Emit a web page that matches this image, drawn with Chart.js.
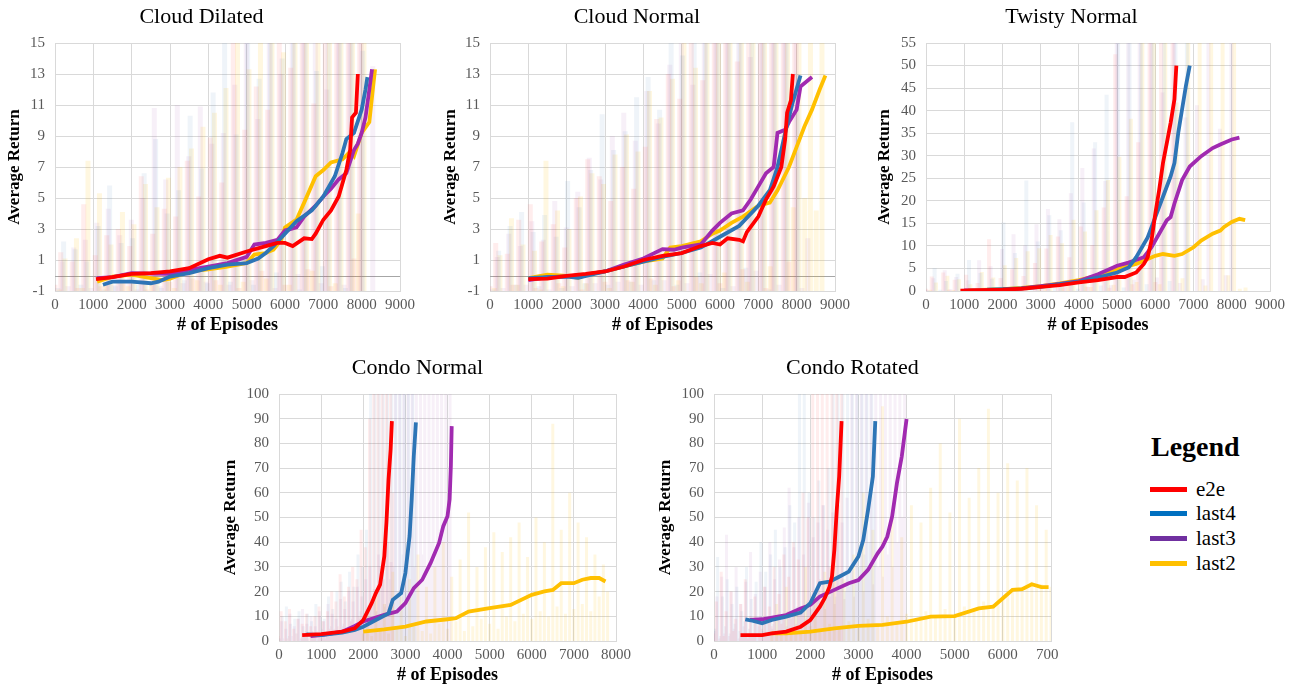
<!DOCTYPE html>
<html>
<head>
<meta charset="utf-8">
<script src="https://cdn.jsdelivr.net/npm/chart.js@4.4.1/dist/chart.umd.min.js"></script>
<style>
  html, body { margin: 0; padding: 0; background: #fff; width: 1299px; height: 685px; overflow: hidden; }
  .box { position: absolute; overflow: hidden; }
  .box canvas { position: absolute; left: 0; top: 0; }
  #legend { position: absolute; left: 1140px; top: 431px; font-family: "Liberation Serif", serif; color: #000; }
  #legend .head { font-size: 28px; font-weight: bold; position: absolute; left: 11px; top: 0; white-space: nowrap; }
  #legend .item { position: absolute; left: 10px; height: 24px; white-space: nowrap; font-size: 21px; line-height: 24px; }
  #legend .sw { display: inline-block; width: 37px; height: 5px; vertical-align: middle; margin-right: 9px; position: relative; top: -2px; }
</style>
</head>
<body>
<div id="legend">
  <div class="head">Legend</div>
  <div class="item" style="top:46px"><span class="sw" style="background:#FF0000"></span>e2e</div>
  <div class="item" style="top:70px"><span class="sw" style="background:#0070C0"></span>last4</div>
  <div class="item" style="top:95px"><span class="sw" style="background:#7030A0"></span>last3</div>
  <div class="item" style="top:120px"><span class="sw" style="background:#FFC000"></span>last2</div>
</div>
<script>
// series names and colours
const seriesNames = ["e2e", "last4", "last3", "last2"];
const lineColors = ["#FF0000", "#2E75B6", "#A12AB0", "#FFC000"];
const noiseColors = ["rgba(255,60,60,0.09)", "rgba(46,117,182,0.08)", "rgba(150,60,170,0.08)", "rgba(255,192,0,0.12)"];

// ---------- Cloud Dilated ----------
const cdE2e = [[1070,-0.24],[1500,-0.1],[2000,0.1],[2500,0.15],[3000,0.26],[3500,0.47],[4000,1.05],[4300,1.27],[4500,1.15],[5000,1.55],[5500,1.9],[5800,2.1],[6000,2.1],[6200,1.9],[6500,2.4],[6700,2.35],[6800,2.7],[7000,3.6],[7200,4.2],[7400,5.1],[7600,6.8],[7700,8.1],[7750,10.2],[7850,10.5],[7900,13.0]];
const cdLast4 = [[1250,-0.6],[1500,-0.4],[2000,-0.4],[2500,-0.5],[2700,-0.4],[3000,-0.07],[3500,0.15],[4000,0.47],[4500,0.7],[5000,0.8],[5300,1.1],[5500,1.45],[5700,1.9],[6000,2.7],[6300,3.5],[6700,4.2],[7000,5.1],[7300,6.4],[7500,7.9],[7600,8.8],[7800,9.2],[8000,10.7],[8100,12.0],[8150,12.8]];
const cdLast3 = [[1100,-0.17],[1500,-0.1],[2000,0.15],[2500,0.12],[3000,0.1],[3500,0.37],[4000,0.58],[4500,0.8],[5000,1.2],[5200,2.0],[5500,2.1],[5800,2.3],[6000,2.9],[6300,3.1],[6500,3.8],[6800,4.5],[7000,5.1],[7200,5.6],[7400,6.2],[7600,6.6],[7800,8.1],[7900,8.5],[8000,9.2],[8100,10.2],[8200,12.0],[8270,13.3]];
const cdLast2 = [[1100,-0.4],[1500,-0.07],[2000,0.05],[2500,-0.17],[2800,-0.3],[3000,-0.2],[3500,0.26],[4000,0.4],[4500,0.58],[5000,0.8],[5200,1.35],[5500,1.45],[5700,1.66],[5900,2.3],[6000,3.1],[6300,3.6],[6500,4.7],[6800,6.4],[7000,6.8],[7200,7.3],[7500,7.5],[7700,8.0],[7800,7.7],[8000,9.2],[8200,9.9],[8300,12.2],[8350,13.3]];
const cdE2eRaw = [-0.6,1.5,-1,0.9,-0.8,4.6,-1,1.3,-0.7,2.6,-1,3.0,-0.5,1.9,-1,6.4,-0.9,2.7,-1,4.3,-0.4,3.8,-1,7.4,-0.2,5.1,-1,8.9,-0.3,6.0,-1,15,-0.8,9.4,-1,12.2,0.3,10.7,-1,15,-0.6,13.4,-1,15,0.4,11.1,-1,15,-0.7,15,-1,15,1.1,15];
const cdLast4Raw = [-0.8,2.2,-1,1.7,-0.6,0.9,-1,3.2,-0.9,5.8,-0.7,2.1,-1,2.4,-0.6,6.6,-1,8.8,-0.8,4.0,-1,5.5,-0.3,10.3,-1,6.9,-0.5,11.8,-1,15,-0.4,9.1,-1,15,-0.6,12.7,-1,15,0.2,14.0,-1,15,-0.9,15,-1,13.2,0.6,15,-1,15,-0.8,15,-1,14.5,-1];
const cdLast3Raw = [-1,0.9,-0.7,1.8,-1,2.3,-0.8,3.4,-1,4.3,-0.6,2.6,-1,3.6,-0.9,5.0,-1,10.8,-0.7,6.2,-1,11.0,-0.5,7.7,-1,10.9,-0.4,8.5,-1,9.2,-0.6,12.3,-1,15,-0.3,10.1,-1,15,-0.8,13.0,-1,15,0.1,15,-1,15,-0.5,12.0,-1,15,-0.6,15,-1,15,-1,13.5];
const cdLast2Raw = [-0.9,1.1,-1,2.4,-0.8,7.4,-1,5.3,-0.6,2.0,-1,4.1,-0.7,3.3,-1,5.9,-0.5,4.4,-1,6.3,-0.8,7.0,-1,8.2,-0.3,9.6,-1,10.5,-0.6,12.1,-1,15,-0.4,13.3,-1,15,-0.2,15,-1,14.4,-0.6,15,-1,15,0.3,15,-1,15,-0.5,15,-1,15,4.0,15];

// ---------- Cloud Normal ----------
const cnE2e = [[1000,-0.24],[1500,-0.2],[2000,-0.02],[2500,0.1],[3000,0.26],[3500,0.58],[4000,1.0],[4500,1.27],[5000,1.45],[5500,1.9],[5800,2.1],[6000,2.0],[6200,2.4],[6500,2.3],[6600,2.2],[6700,2.8],[7000,3.8],[7200,4.9],[7400,5.75],[7600,7.0],[7700,8.8],[7750,10.5],[7850,11.3],[7900,13.0]];
const cnLast4 = [[1000,-0.17],[1500,-0.1],[2000,-0.07],[2300,-0.15],[3000,0.26],[3500,0.58],[4000,0.9],[4500,1.2],[5000,1.45],[5500,1.8],[6000,2.5],[6500,3.2],[7000,4.5],[7300,5.5],[7500,7.0],[7700,9.2],[7900,11.2],[8100,12.9]];
const cnLast3 = [[1000,-0.3],[1500,-0.1],[2000,-0.05],[2500,0.05],[3000,0.26],[3500,0.7],[4000,1.1],[4500,1.7],[4800,1.66],[5000,1.8],[5500,2.0],[5800,2.9],[6000,3.4],[6300,4.0],[6600,4.2],[6800,4.9],[7000,5.75],[7200,6.6],[7400,7.0],[7500,9.2],[7700,9.4],[7800,9.9],[8000,10.7],[8100,12.2],[8400,12.8]];
const cnLast2 = [[1000,-0.17],[1500,0.05],[2000,-0.02],[2300,-0.15],[2500,0.05],[3000,0.26],[3500,0.58],[4000,0.9],[4500,1.1],[4700,1.8],[5000,1.9],[5500,2.2],[5800,2.7],[6000,2.9],[6300,3.4],[6600,3.8],[7000,4.5],[7300,4.7],[7500,5.5],[7800,7.0],[8000,8.3],[8200,9.6],[8400,10.7],[8600,12.0],[8750,12.9]];
const cnE2eRaw = [-0.7,2.1,-1,1.4,-0.6,3.6,-1,4.6,-0.8,2.2,-1,3.3,-0.5,1.8,-1,5.0,-0.9,7.5,-1,6.4,-0.4,4.8,-1,7.0,-0.3,5.6,-1,8.3,-0.2,10.1,-1,13.0,-0.7,11.4,-1,15,-0.1,12.6,-1,15,-0.5,15,-1,13.8,0.4,15,-1,15,-0.8,15,-1,15,0.9,15];
const cnLast4Raw = [-0.9,1.6,-1,3.2,-0.6,4.1,-1,2.8,-0.7,3.9,-1,2.5,-0.8,6.1,-1,4.4,-0.5,6.8,-1,10.4,-0.6,8.1,-1,9.3,-0.4,11.5,-1,12.8,-0.3,10.7,-1,15,-0.6,14.2,-1,15,0.2,15,-1,15,-0.8,15,-1,15,0.5,15,-1,15,-0.9,15,-1,15,-1,13.0];
const cnLast3Raw = [-1,1.2,-0.8,2.7,-1,1.9,-0.6,3.5,-1,2.3,-0.9,4.8,-1,3.1,-0.7,5.4,-1,7.6,-0.5,6.2,-1,9.0,-0.4,10.5,-1,8.7,-0.6,11.9,-1,9.8,-0.3,13.6,-1,15,-0.5,12.3,-1,15,0.1,15,-1,15,-0.7,15,-1,14.1,0.3,15,-1,15,-0.6,15,-1,15,-0.8,2.4,-1];
const cnLast2Raw = [-0.8,1.3,-1,3.7,-0.6,2.0,-1,1.6,-0.9,7.4,-1,4.2,-0.7,3.0,-1,5.1,-0.5,6.6,-1,5.9,-0.8,7.8,-1,9.1,-0.4,8.0,-1,11.9,-0.6,10.2,-1,12.7,-0.3,15,-1,13.4,-0.5,15,-1,15,0.2,15,-1,15,-0.4,15,-1,15,0.6,15,-1,15,4.4,15,5.0,15,4.2,15];

// ---------- Twisty Normal ----------
const twE2e = [[900,0.1],[1500,0.2],[2000,0.3],[2500,0.5],[3000,0.9],[3500,1.3],[4000,1.9],[4500,2.4],[5000,3.1],[5200,3.1],[5500,4.1],[5700,6.0],[5800,7.5],[5900,11.2],[6000,17.2],[6100,22.4],[6200,28.4],[6300,32.8],[6400,37.3],[6500,42.5],[6550,50]];
const twLast4 = [[1600,0.3],[2000,0.4],[2500,0.6],[3000,0.9],[3500,1.5],[4000,2.1],[4500,3.0],[5000,4.1],[5300,5.2],[5500,7.5],[5800,11.9],[6000,16.4],[6200,20.9],[6400,25.4],[6500,28.4],[6600,35.1],[6700,40.3],[6800,45.5],[6900,50]];
const twLast3 = [[1000,0.15],[1500,0.15],[2000,0.2],[2500,0.6],[3000,1.1],[3500,1.6],[4000,2.2],[4500,3.7],[5000,5.6],[5300,6.3],[5700,7.5],[5900,9.7],[6100,12.7],[6300,15.7],[6400,16.4],[6500,19.4],[6700,24.6],[6900,27.6],[7200,29.9],[7500,31.7],[7700,32.5],[8000,33.6],[8200,34.0]];
const twLast2 = [[1100,0.15],[2000,0.4],[2500,0.7],[3000,1.1],[3500,1.7],[4000,2.4],[4500,3.4],[5000,4.9],[5500,6.0],[5800,7.1],[6000,7.8],[6200,8.2],[6500,7.8],[6700,8.2],[7000,9.7],[7200,11.2],[7500,12.7],[7700,13.4],[7800,14.2],[8000,15.3],[8200,16.0],[8350,15.7]];
const twE2eRaw = [0.5,3.2,0,4.1,0.3,2.5,0,3.6,0.2,1.8,0,11.5,0.4,2.9,0,4.8,0.6,3.3,0,6.2,0.5,9.4,0,12.1,0.8,7.5,0,14.3,1.0,10.2,0,18.5,0.7,52.5,0,21.0,1.5,33.0,0,55,2.0,55,0,55];
const twLast4Raw = [0,5.1,0.3,2.2,0,3.8,0.4,6.9,0,4.0,0.5,2.7,0,15.2,0.3,8.4,0,24.5,0.6,11.0,0,16.8,0.9,13.5,0,37.4,0.5,19.6,0,33.0,1.2,43.5,0,55,0.8,55,0,55,1.5,55,0,55,2.2,55,0,55];
const twLast3Raw = [0.2,2.8,0,4.6,0.4,3.1,0,2.4,0.3,6.8,0,5.5,0.2,9.3,0,12.6,0.7,10.1,0,14.8,0.5,18.2,0,15.9,1.0,21.7,0,27.3,0.9,31.6,0,24.4,1.3,55,0,55,2.5,55,0,55,3.0,44.0,0,55,1.8,38.5,0,41.2,2.6,55,0,36.0,3.5,55,0];
const twLast2Raw = [0.3,1.9,0,3.4,0.2,2.6,0,1.5,0.4,4.2,0,3.0,0.5,5.7,0,7.3,0.6,8.8,0,9.5,0.8,12.4,0,10.6,1.1,15.8,0,13.2,0.9,17.9,0,24.6,1.4,29.8,0,38.2,2.0,55,0,55,1.5,55,0,41.8,2.8,55,0,55,1.2,55,0,55,3.5,55,0.5,0.8];

// ---------- Condo Normal ----------
const cnoE2e = [[550,2.4],[1000,2.8],[1500,3.8],[1800,5.1],[2000,8.5],[2200,15.3],[2300,19.4],[2400,22.8],[2500,34.3],[2550,47.8],[2600,65.4],[2650,77.6],[2680,89]];
const cnoLast4 = [[650,2.7],[1000,2.4],[1500,3.4],[1800,4.5],[2000,5.8],[2300,8.5],[2600,11.2],[2700,16.7],[2900,19.4],[3000,27.5],[3100,42.5],[3150,57.3],[3200,75],[3250,88.5]];
const cnoLast3 = [[750,2.0],[1000,2.4],[1500,3.8],[1800,6.1],[2000,7.9],[2500,10.6],[2800,11.9],[3000,15.3],[3200,21.4],[3400,24.8],[3600,31.6],[3800,39.7],[3900,46.5],[4000,50.5],[4050,57.3],[4080,70.9],[4100,87]];
const cnoLast2 = [[2000,3.8],[2500,4.7],[3000,5.8],[3500,7.9],[4000,8.8],[4200,9.2],[4500,11.9],[5000,13.3],[5500,14.6],[6000,18.7],[6300,20.1],[6500,20.7],[6700,23.4],[7000,23.4],[7200,24.8],[7400,25.5],[7600,25.5],[7750,24.1]];
const cnoE2eRaw = [2,12,0,8,1,13,0,5,3,9,0,7,2,11,1,6,4,10,0,14,3,8,1,12,5,20,2,16,6,27,3,18,5,22,8,30,4,25,10,45,6,38,12,90,15,100,20,100,30,100,25,100,40,100,60];
const cnoLast4Raw = [1,10,0,14,2,7,0,9,3,12,1,6,4,11,0,8,2,15,1,10,5,9,2,18,6,13,3,20,4,24,7,16,5,28,9,22,6,35,12,30,8,45,14,100,18,100,12,100,22,100,15,100,25,100,30,100,20,100,35,100,40,100,50,100,70];
const cnoLast3Raw = [0,8,1,5,0,11,2,6,0,9,1,13,3,7,0,10,2,6,4,12,1,8,3,15,2,11,5,9,3,17,6,13,4,20,8,16,5,22,9,18,6,25,10,30,7,21,12,35,9,28,14,40,11,32,16,100,20,100,15,100,25,100,18,100,30,100,22,100,35,100,28,100,40,100,33,100,45,100,50,100,60,100];
const cnoLast2Raw = [3,12,2,20,4,15,3,28,5,18,2,25,6,35,4,22,3,30,7,40,5,26,8,33,4,52,6,30,9,38,7,44,5,36,10,42,8,48,11,34,9,50,12,40,10,88,14,45,11,60,13,48,15,42,12,35,18,31,20];

// ---------- Condo Rotated ----------
const crE2e = [[550,2.4],[1000,2.4],[1200,3.1],[1500,3.8],[1800,5.8],[2000,8.5],[2200,13.9],[2300,17.3],[2400,22],[2450,26],[2500,36.9],[2550,53.1],[2600,66.6],[2650,89]];
const crLast4 = [[650,8.8],[800,8.2],[1000,7.2],[1200,8.5],[1500,9.9],[1800,11.5],[2000,15.3],[2200,23.4],[2400,24],[2600,26],[2800,28.1],[3000,34.2],[3100,40.9],[3200,53.1],[3300,66.6],[3350,89]];
const crLast3 = [[750,8.5],[1000,8.8],[1500,10.5],[1800,13.2],[2000,14.6],[2200,18.0],[2500,20.7],[2800,23.4],[3000,24.7],[3200,28.8],[3400,35.5],[3500,38.2],[3600,42.3],[3700,50.4],[3800,63.9],[3900,74.7],[4000,89.9]];
const crLast2 = [[1200,3.1],[1500,3.1],[2000,3.8],[2500,5.1],[3000,6.1],[3500,6.5],[4000,7.8],[4500,9.9],[5000,10.1],[5500,13.2],[5800,13.9],[6000,17.3],[6200,20.7],[6400,21],[6600,23],[6800,21.8],[6950,21.8]];
const crE2eRaw = [3,16,0,28,2,12,0,20,4,9,0,15,2,25,1,10,3,18,0,8,5,22,2,14,6,30,3,19,7,35,4,26,9,40,5,33,12,60,8,50,15,100,20,100,25,100,18,100,30,100,40,100,55,100];
const crLast4Raw = [5,34,2,18,6,25,3,15,7,22,4,12,8,30,5,17,9,24,6,40,8,28,10,35,7,45,11,30,9,38,12,55,10,48,14,100,12,100,16,60,13,50,18,65,15,55,20,70,22,100,18,100,25,100,20,100,28,100,24,100,30,100,35,100,40,100,60];
const crLast3Raw = [4,18,1,26,3,43,2,20,5,30,1,15,6,24,3,36,2,19,7,28,4,22,8,40,5,25,3,33,9,46,6,62,10,38,7,50,12,35,9,56,14,42,11,48,16,55,13,45,18,52,15,60,20,48,17,58,22,100,18,100,25,100,20,100,28,100,23,100,30,100,26,100,35,100,30,100,40,100,50,100];
const crLast2Raw = [4,15,3,22,5,12,4,30,6,18,5,28,7,40,5,25,8,35,6,60,9,45,7,95,10,50,8,42,11,55,9,48,12,62,10,80,13,52,11,90,14,58,12,70,16,94,15,60,18,72,20,65,22,70,24,55,23,45,22];

// panel layout (positions only, data comes from the arrays above)
const panels = [
  { title: "Cloud Dilated", left: 0, top: 0, w: 422, h: 340, clipW: 422, area: { l: 55, r: 400, t: 43, b: 291 }, yTitleX: 15, titleY: 17,
    xMax: 9000, yMin: -1, yMax: 15, yStep: 2, zero: true, spike: 5,
    lines: [cdE2e, cdLast4, cdLast3, cdLast2],
    raw: [[cdE2eRaw, 0, 150], [cdLast4Raw, 75, 150], [cdLast3Raw, 40, 150], [cdLast2Raw, 110, 150]] },
  { title: "Cloud Normal", left: 430, top: 0, w: 434, h: 340, clipW: 434, area: { l: 490, r: 835, t: 43, b: 291 }, yTitleX: 451, titleY: 17,
    xMax: 9000, yMin: -1, yMax: 15, yStep: 2, zero: true, spike: 5,
    lines: [cnE2e, cnLast4, cnLast3, cnLast2],
    raw: [[cnE2eRaw, 0, 150], [cnLast4Raw, 75, 150], [cnLast3Raw, 40, 150], [cnLast2Raw, 110, 150]] },
  { title: "Twisty Normal", left: 860, top: 0, w: 442, h: 340, clipW: 439, area: { l: 926, r: 1270, t: 43, b: 291 }, yTitleX: 885, titleY: 17,
    xMax: 9000, yMin: 0, yMax: 55, yStep: 5, zero: false, spike: 4,
    lines: [twE2e, twLast4, twLast3, twLast2],
    raw: [[twE2eRaw, 0, 150], [twLast4Raw, 75, 150], [twLast3Raw, 40, 150], [twLast2Raw, 110, 150]] },
  { title: "Condo Normal", left: 215, top: 350, w: 424, h: 340, clipW: 424, area: { l: 279, r: 616, t: 394, b: 641 }, yTitleX: 231, titleY: 368,
    xMax: 8000, yMin: 0, yMax: 100, yStep: 10, zero: false, spike: 3,
    lines: [cnoE2e, cnoLast4, cnoLast3, cnoLast2],
    raw: [[cnoE2eRaw, 0, 50], [cnoLast4Raw, 25, 50], [cnoLast3Raw, 10, 50], [cnoLast2Raw, 2000, 100]] },
  { title: "Condo Rotated", left: 620, top: 350, w: 484, h: 340, clipW: 439, area: { l: 714, r: 1051, t: 394, b: 641 }, yTitleX: 666, titleY: 368,
    xMax: 7000, yMin: 0, yMax: 100, yStep: 10, zero: false, spike: 3,
    lines: [crE2e, crLast4, crLast3, crLast2],
    raw: [[crE2eRaw, 0, 50], [crLast4Raw, 25, 50], [crLast3Raw, 10, 50], [crLast2Raw, 1200, 100]] }
];

const FONT = "'Liberation Serif', 'Times New Roman', serif";
const GRID = "#d9d9d9";

// gray horizontal axis line at y = 0 (cloud plots)
const zeroLine = {
  id: "zeroLine",
  beforeDatasetsDraw(chart, args, opts) {
    if (!opts.show) return;
    const y = chart.scales.y.getPixelForValue(0);
    const ctx = chart.ctx;
    ctx.save();
    ctx.strokeStyle = "#a6a6a6";
    ctx.lineWidth = 1;
    ctx.beginPath();
    ctx.moveTo(chart.chartArea.left, Math.round(y) + 0.5);
    ctx.lineTo(chart.chartArea.right, Math.round(y) + 0.5);
    ctx.stroke();
    ctx.restore();
  }
};

function toPoints(pairs) {
  return pairs.map(p => ({ x: p[0], y: p[1] }));
}

// each raw return is drawn as a thin vertical stroke up from the bottom of the axis
function rawSpikes(vals, start, step, base) {
  const pts = [];
  vals.forEach((v, i) => {
    const x = start + i * step;
    pts.push({ x: x, y: base }, { x: x, y: v }, { x: x, y: null });
  });
  return pts;
}

panels.forEach((p) => {
  const box = document.createElement("div");
  box.className = "box";
  box.style.left = p.left + "px";
  box.style.top = p.top + "px";
  box.style.width = p.clipW + "px";
  box.style.height = p.h + "px";
  const canvas = document.createElement("canvas");
  canvas.width = p.w;
  canvas.height = p.h;
  box.appendChild(canvas);
  document.body.appendChild(box);

  const yTitleOffset = 20.4 / 2 + 2;
  const padLeft = Math.max(0, p.yTitleX - p.left - yTitleOffset);
  const yWidth = p.area.l - p.left - padLeft;
  const xHeight = p.top + p.h - p.area.b;
  const titleTop = p.titleY - p.top - 13.2;
  const titleBottom = p.area.t - p.top - titleTop - 26.4;

  const datasets = [];
  p.lines.forEach((line, i) => {
    datasets.push({
      label: seriesNames[i],
      data: toPoints(line),
      borderColor: lineColors[i],
      backgroundColor: lineColors[i],
      borderWidth: 3.8,
      pointRadius: 0,
      tension: 0,
      order: 0
    });
  });
  p.raw.forEach((r, i) => {
    datasets.push({
      label: seriesNames[i] + " raw",
      data: rawSpikes(r[0], r[1], r[2], p.yMin),
      borderColor: noiseColors[i],
      borderWidth: p.spike,
      borderCapStyle: "butt",
      pointRadius: 0,
      spanGaps: false,
      tension: 0,
      order: 1
    });
  });

  new Chart(canvas.getContext("2d"), {
    type: "line",
    data: { datasets: datasets },
    plugins: [zeroLine],
    options: {
      responsive: false,
      animation: false,
      layout: { padding: { left: padLeft, right: p.left + p.w - p.area.r, top: 0, bottom: 0 } },
      plugins: {
        legend: { display: false },
        tooltip: { enabled: false },
        zeroLine: { show: p.zero },
        title: {
          display: true,
          text: p.title,
          color: "#000",
          font: { family: FONT, size: 22, weight: "normal", lineHeight: 1.2 },
          padding: { top: titleTop, bottom: titleBottom }
        }
      },
      scales: {
        x: {
          type: "linear",
          min: 0,
          max: p.xMax,
          ticks: { stepSize: 1000, color: "#595959", padding: 5, font: { family: FONT, size: 15 }, maxRotation: 0, callback: v => String(v) },
          grid: { color: GRID, drawTicks: false },
          border: { color: GRID },
          title: { display: true, text: "# of Episodes", color: "#000", font: { family: FONT, size: 18, weight: "bold", lineHeight: 1.2 }, padding: { top: 0, bottom: xHeight - 34 - 10.8 } },
          afterFit(s) { s.height = xHeight; s.paddingLeft = 0; s.paddingRight = 0; }
        },
        y: {
          min: p.yMin,
          max: p.yMax,
          ticks: { stepSize: p.yStep, color: "#595959", padding: 10, font: { family: FONT, size: 15 }, callback: v => String(v) },
          grid: { color: GRID, drawTicks: false },
          border: { color: GRID },
          title: { display: true, text: "Average Return", color: "#000", font: { family: FONT, size: 17, weight: "bold", lineHeight: 1.2 }, padding: { top: 2, bottom: 2 } },
          afterFit(s) { s.width = yWidth; s.paddingTop = 0; s.paddingBottom = 0; }
        }
      }
    }
  });
});
</script>
</body>
</html>
